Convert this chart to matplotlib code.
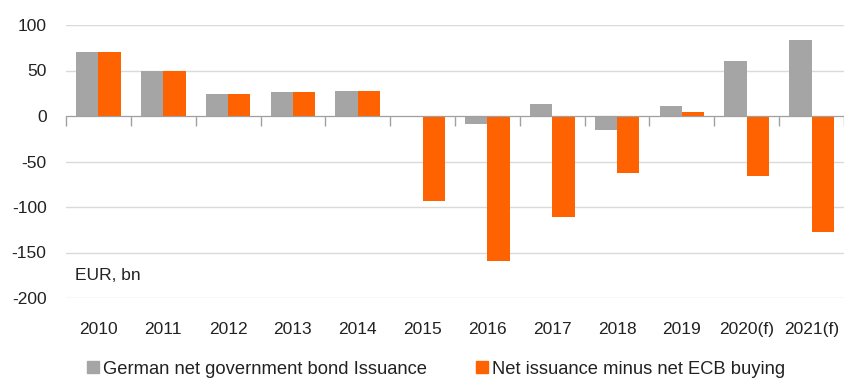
import matplotlib
matplotlib.use("Agg")
import matplotlib.pyplot as plt
import numpy as np
from matplotlib.patches import Patch

categories = ["2010", "2011", "2012", "2013", "2014", "2015", "2016", "2017",
              "2018", "2019", "2020(f)", "2021(f)"]
german_net = [70, 50, 24, 26, 28, -1, -9, 13, -15, 11, 60, 83]
net_minus_ecb = [70, 50, 24, 26, 28, -93, -159, -111, -63, 4, -66, -127]
yticks = [100, 50, 0, -50, -100, -150, -200]
series_names = ["German net government bond Issuance", "Net issuance minus net ECB buying"]
unit_label = "EUR, bn"

GRAY = "#A5A5A5"
ORANGE = "#FF6200"
TXT = "#222222"
FAM = ["Liberation Sans", "DejaVu Sans"]

fig = plt.figure(figsize=(8.44, 3.78), dpi=100)
ax = fig.add_axes([66/844, 1-298/378, 1-66/844, (298-25)/378])

x = np.arange(len(categories))
w = 0.345
ax.bar(x - w/2, german_net, width=w, color=GRAY, zorder=3)
ax.bar(x + w/2, net_minus_ecb, width=w, color=ORANGE, zorder=3)

ax.set_xlim(-0.5, len(categories) - 0.5)
ax.set_ylim(-200, 100)
ax.set_yticks(yticks)
ax.set_yticklabels([str(v) for v in yticks], fontsize=12.5, color=TXT, family=FAM)
ax.tick_params(axis="y", length=0, pad=14)
ax.grid(axis="y", color="#DADADA", linewidth=1, zorder=0)

for s in ["left", "right", "top"]:
    ax.spines[s].set_visible(False)
ax.spines["bottom"].set_position(("data", 0))
ax.spines["bottom"].set_color("#A0A0A0")
ax.spines["bottom"].set_zorder(4)
ax.set_xticks(np.arange(len(categories) + 1) - 0.5)
ax.set_xticklabels([])
ax.tick_params(axis="x", length=7, direction="out", color="#A0A0A0", width=1)

sec = ax.secondary_xaxis("bottom")
sec.set_xticks(x)
sec.set_xticklabels(categories, fontsize=12.5, color=TXT, family=FAM)
sec.tick_params(length=0, pad=17)
sec.spines["bottom"].set_visible(False)

fig.text(75/844, 1-275/378, unit_label, fontsize=12.5, color=TXT, va="center", ha="left",
         family=FAM)

handles = [Patch(color=GRAY), Patch(color=ORANGE)]
fig.legend(handles, series_names, loc="center left", bbox_to_anchor=(87/844, 1-369/378),
           ncol=2, frameon=False, handlelength=0.65, handleheight=0.65, handletextpad=0.2,
           columnspacing=2.7, borderpad=0, borderaxespad=0,
           prop={"family": FAM, "size": 13.2},
           labelcolor=TXT)

fig.savefig("out.png", dpi=100)
